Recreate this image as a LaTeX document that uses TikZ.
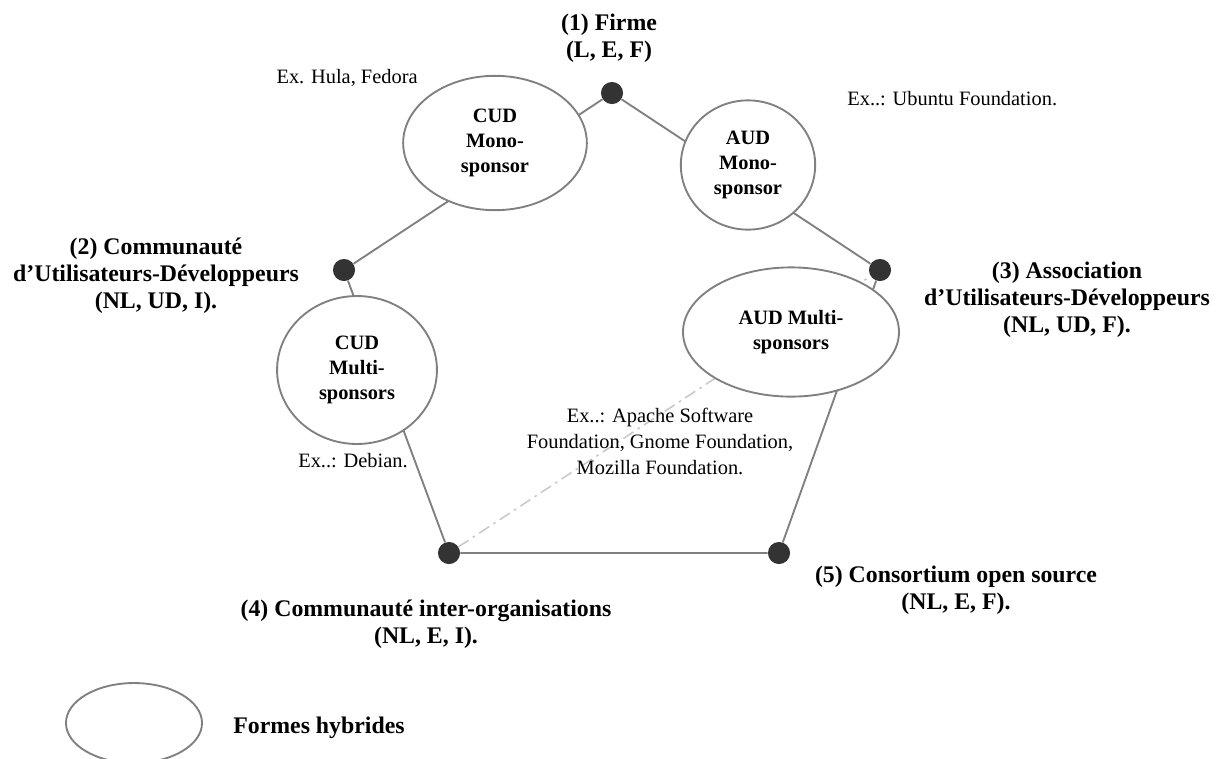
\documentclass[tikz,border=0pt]{standalone}
\usepackage{fontspec}
\setmainfont{Liberation Serif}
\usetikzlibrary{shapes.geometric}
\definecolor{trait}{HTML}{808080}
\definecolor{point}{HTML}{333333}
\definecolor{tiret}{HTML}{C8C8C8}
\tikzset{
  hub/.style={circle,fill=point,minimum size=13pt,inner sep=0pt},
  hybride/.style={ellipse,draw=trait,line width=1.1pt,fill=white,inner sep=0pt,align=center,
    font=\bfseries\fontsize{12}{14.7}\selectfont},
  lien/.style={draw=trait,line width=1.1pt},
  titre/.style={align=center,inner sep=0pt,font=\bfseries\fontsize{14}{15.8}\selectfont},
  exemple/.style={align=center,inner sep=0pt,font=\fontsize{12}{15.3}\selectfont},
}

\begin{document}
\begin{tikzpicture}[x=0.588pt,y=-0.588pt]
  \useasboundingbox (0,0) rectangle (1220,758);

  % les cinq formes
  \node (f1) [hub] at (612,93)  {};
  \node (f2) [hub] at (344,270) {};
  \node (f3) [hub] at (880,270) {};
  \node (f4) [hub] at (449,553) {};
  \node (f5) [hub] at (779,553) {};

  \draw[tiret,line width=0.9pt,dash pattern=on 7pt off 3pt on 1.5pt off 3pt] (f4) -- (f3);
  \draw[lien] (f1) -- (f2) (f1) -- (f3) (f2) -- (f4) (f3) -- (f5) (f4) -- (f5);

  % formes hybrides
  \node (cudmono)  [hybride,minimum width=108pt,minimum height=79pt] at (495,143) {CUD\\Mono-\\sponsor};
  \node (audmono)  [hybride,minimum width=79pt,minimum height=76pt]  at (748,165) {AUD\\Mono-\\sponsor};
  \node (cudmulti) [hybride,minimum width=94pt,minimum height=87pt]  at (357,370) {CUD\\Multi-\\sponsors};
  \node (audmulti) [hybride,minimum width=127pt,minimum height=76pt] at (791,332) {AUD Multi-\\sponsors};

  \node (t1) [titre] at (609,38)   {(1) Firme\\(L, E, F)};
  \node (t2) [titre] at (156,276)  {(2) Communauté\\d’Utilisateurs-Développeurs\\(NL, UD, I).};
  \node (t3) [titre] at (1067,300) {(3) Association\\d’Utilisateurs-Développeurs\\(NL, UD, F).};
  \node (t4) [titre] at (426,624)  {(4) Communauté inter-organisations\\(NL, E, I).};
  \node (t5) [titre] at (956,590)  {(5) Consortium open source\\(NL, E, F).};

  \node (ex1) [exemple,anchor=base east] at (418,83)  {Ex. Hula, Fedora};
  \node (ex2) [exemple,anchor=base west] at (847,105) {Ex..: Ubuntu Foundation.};
  \node (ex3) [exemple] at (660,441) {Ex..: Apache Software\\Foundation, Gnome Foundation,\\Mozilla Foundation.};
  \node (ex4) [exemple] at (353,461) {Ex..: Debian.};

  % legende
  \node (legende) [hybride,minimum width=80pt,minimum height=47pt] at (134,723) {};
  \node (tleg) [titre,anchor=base west] at (233,733) {Formes hybrides};
\end{tikzpicture}
\end{document}
